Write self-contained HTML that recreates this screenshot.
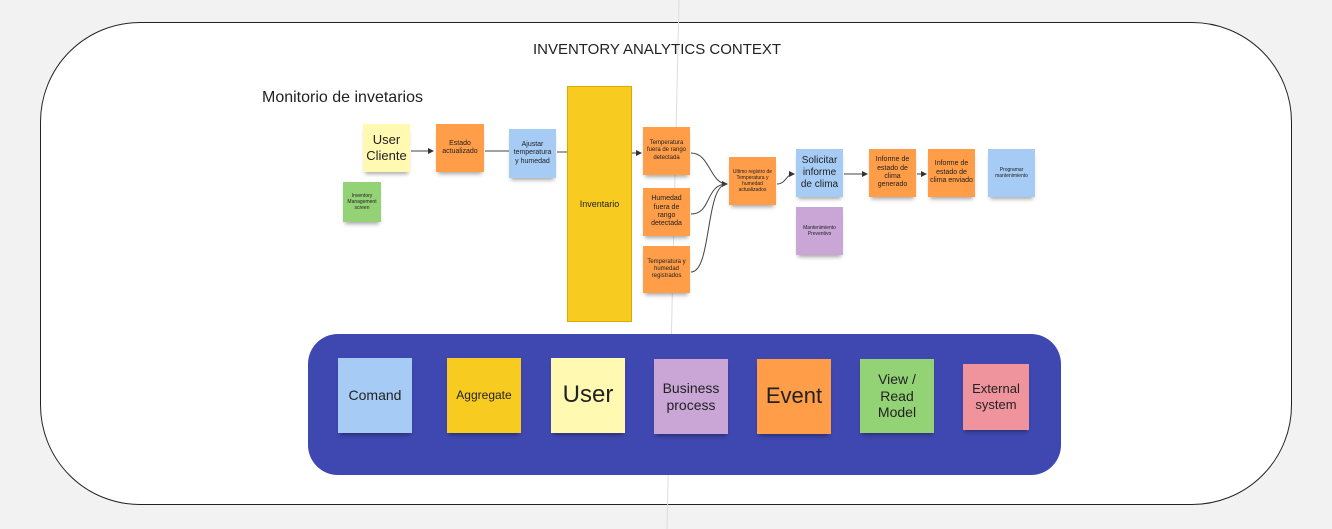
<!DOCTYPE html>
<html><head><meta charset="utf-8"><style>
body{margin:0;width:1332px;height:529px;background:#f2f2f2;position:relative;overflow:hidden;font-family:"Liberation Sans",sans-serif;}
.frame{position:absolute;left:40px;top:22px;width:1252px;height:483px;border:1px solid #222;border-radius:100px;background:#fff;box-sizing:border-box;}
.s{position:absolute;display:flex;align-items:center;justify-content:center;text-align:center;color:#222;box-shadow:0 4px 4px -2px rgba(0,0,0,.35);line-height:1.2;box-sizing:border-box;padding:2px;}
.y{background:#fff9b1}.o{background:#ff9d48}.b{background:#a6ccf5}.g{background:#93d275}.p{background:#c9a6d6}.a{background:#f7cb1f}.r{background:#ef939c}
.t{position:absolute;color:#222;}
</style></head><body>
<div class="frame"></div>
<svg style="position:absolute;left:0;top:0" width="1332" height="529">
<line x1="679" y1="0" x2="667" y2="529" stroke="#ddd" stroke-width="1"/>
<defs><marker id="m" markerWidth="6" markerHeight="6" refX="5" refY="3" orient="auto"><path d="M0,0 L6,3 L0,6z" fill="#333"/></marker></defs>
<g stroke="#444" stroke-width="1" fill="none">
<line x1="411" y1="151" x2="433" y2="151" marker-end="url(#m)"/>
<line x1="485" y1="151" x2="509" y2="151"/>
<line x1="557" y1="152" x2="567" y2="152"/>
<line x1="632" y1="153" x2="641" y2="153" marker-end="url(#m)"/>
<path d="M691,153 C710,153 710,184 727,184" marker-end="url(#m)"/>
<path d="M691,214 C712,214 705,184 727,184"/>
<path d="M691,272 C712,272 705,184 727,184"/>
<path d="M777,184 C786,184 786,174 794,174" marker-end="url(#m)"/>
<line x1="844" y1="174" x2="867" y2="174" marker-end="url(#m)"/>
<line x1="917" y1="174" x2="926" y2="174" marker-end="url(#m)"/>
</g></svg>
<div class="t" style="left:0;width:1314px;top:41px;text-align:center;font-size:15px;">INVENTORY ANALYTICS CONTEXT</div>
<div class="t" style="left:262px;top:89px;font-size:16px;">Monitorio de invetarios</div>
<div class="s y" style="left:363px;top:124px;width:47px;height:48px;font-size:13px;">User Cliente</div>
<div class="s g" style="left:343px;top:182px;width:38px;height:40px;font-size:5px;">Inventory Management screen</div>
<div class="s o" style="left:436px;top:124px;width:48px;height:48px;font-size:7px;">Estado actualizado</div>
<div class="s b" style="left:509px;top:129px;width:47px;height:49px;font-size:7px;">Ajustar temperatura y humedad</div>
<div class="s a" style="left:567px;top:86px;width:65px;height:236px;font-size:9px;border:1px solid #d9ab00;box-shadow:none;">Inventario</div>
<div class="s o" style="left:643px;top:127px;width:47px;height:48px;font-size:6px;">Temperatura fuera de rango detectada</div>
<div class="s o" style="left:643px;top:188px;width:47px;height:48px;font-size:7px;">Humedad fuera de rango detectada</div>
<div class="s o" style="left:643px;top:246px;width:47px;height:47px;font-size:6px;">Temperatura y humedad registrados</div>
<div class="s o" style="left:729px;top:157px;width:47px;height:48px;font-size:5px;">Ultimo registro de Temperatura y humedad actualizados</div>
<div class="s b" style="left:796px;top:149px;width:47px;height:48px;font-size:10px;">Solicitar informe de clima</div>
<div class="s p" style="left:796px;top:207px;width:47px;height:48px;font-size:5px;">Mantenimiento Preventivo</div>
<div class="s o" style="left:869px;top:149px;width:47px;height:48px;font-size:7px;">Informe de estado de clima generado</div>
<div class="s o" style="left:928px;top:149px;width:47px;height:48px;font-size:7px;">Informe de estado de clima enviado</div>
<div class="s b" style="left:988px;top:149px;width:47px;height:48px;font-size:5px;">Programar mantenimiento</div>
<div style="position:absolute;left:308px;top:334px;width:753px;height:141px;background:#3f48b0;border-radius:30px;"></div>
<div class="s b" style="left:338px;top:358px;width:74px;height:75px;font-size:14px;">Comand</div>
<div class="s a" style="left:447px;top:358px;width:74px;height:75px;font-size:12px;">Aggregate</div>
<div class="s y" style="left:551px;top:358px;width:74px;height:75px;font-size:24px;">User</div>
<div class="s p" style="left:654px;top:359px;width:74px;height:75px;font-size:14px;">Business process</div>
<div class="s o" style="left:757px;top:359px;width:74px;height:75px;font-size:22px;">Event</div>
<div class="s g" style="left:860px;top:359px;width:74px;height:74px;font-size:14px;">View / Read Model</div>
<div class="s r" style="left:963px;top:364px;width:66px;height:66px;font-size:13px;">External system</div>
</body></html>
